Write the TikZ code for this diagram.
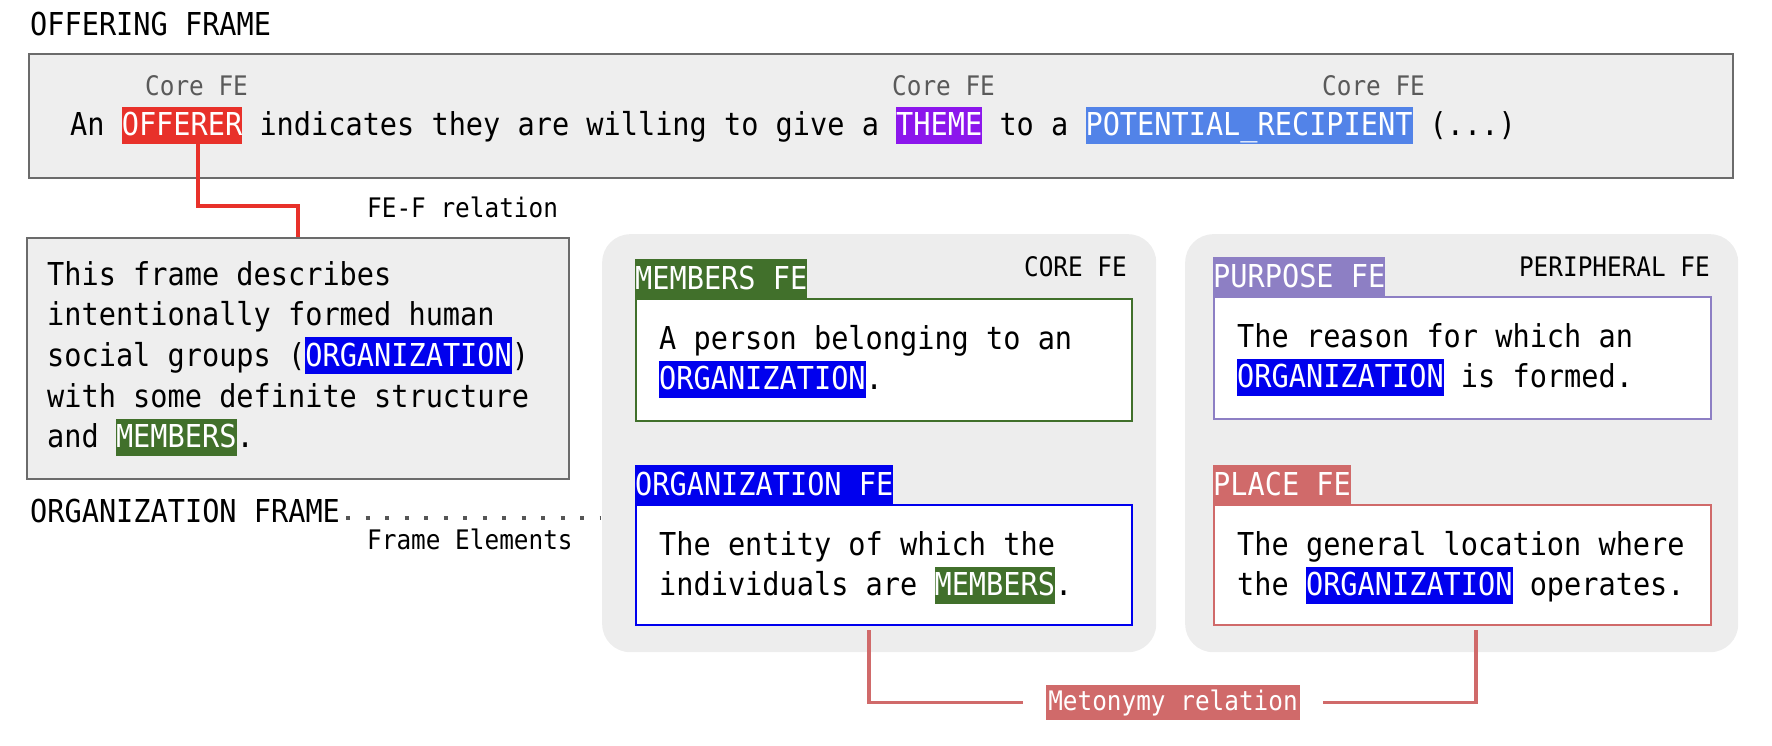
\documentclass[tikz,border=0pt]{standalone}
\usepackage{fontspec}
\setmainfont{DejaVu Sans Mono}[FakeStretch=0.906]
\definecolor{boxgray}{HTML}{EEEEEE}
\definecolor{boxline}{HTML}{6B6B6B}
\definecolor{panelgray}{HTML}{EDEDED}
\definecolor{offred}{HTML}{E8312A}
\definecolor{themepur}{HTML}{8C16EC}
\definecolor{recblue}{HTML}{5283E8}
\definecolor{orgblue}{HTML}{0000EE}
\definecolor{memgreen}{HTML}{41702B}
\definecolor{purlav}{HTML}{8D7FC4}
\definecolor{placered}{HTML}{D06A6A}
\definecolor{coregray}{HTML}{5A5A5A}
\definecolor{dotgray}{HTML}{555555}
\newcommand\fbig{\fontsize{31.55pt}{40.7pt}\selectfont}
\newcommand\fsmall{\fontsize{26.9pt}{32pt}\selectfont}
\newcommand\hl[2]{{\setlength{\fboxsep}{0pt}\colorbox{#1}{\color{white}\rule[-8pt]{0pt}{37pt}#2}}}
\tikzset{
  framebox/.style={draw=boxline, line width=2pt, fill=boxgray, inner sep=0pt, anchor=north west},
  panelbox/.style={fill=panelgray, rounded corners=28pt, inner sep=0pt, anchor=north west},
  febox/.style={fill=white, line width=2pt, inner sep=0pt, anchor=north west, minimum width=#1},
  fetag/.style={anchor=south west, inner sep=0pt, minimum height=39pt, text=white, font=\fbig, text height=23pt, text depth=0pt},
  txt/.style={anchor=base west, inner sep=0pt, font=\fbig},
  smalltxt/.style={anchor=base west, inner sep=0pt, font=\fsmall},
  fefline/.style={draw=offred, line width=4pt},
  metline/.style={draw=placered, line width=3.5pt},
  dotsline/.style={draw=dotgray, line width=4pt, dash pattern=on 4pt off 15.5pt}
}
\begin{document}
\begin{tikzpicture}[x=1pt,y=-1pt]
\useasboundingbox (0,0) rectangle (1772,746);
% panels
\node[panelbox, minimum width=554pt, minimum height=418pt] (midpanel) at (602,234) {};
\node[panelbox, minimum width=553pt, minimum height=418pt] (rightpanel) at (1185,234) {};
% offering frame
\node[txt] (title) at (30,36) {OFFERING FRAME};
\node[framebox, minimum width=1704pt, minimum height=124pt] (topbox) at (28,53) {};
\node[txt] (sent) at (70,136) {An \hl{offred}{OFFERER} indicates they are willing to give a \hl{themepur}{THEME} to a \hl{recblue}{POTENTIAL\_RECIPIENT} (...)};
\node[smalltxt, text=coregray] (core1) at (145,96) {Core FE};
\node[smalltxt, text=coregray] (core2) at (892,96) {Core FE};
\node[smalltxt, text=coregray] (core3) at (1322,96) {Core FE};
% organization frame box
\node[framebox, minimum width=542pt, minimum height=241pt] (lbox) at (26,237) {};
\node[txt] (ltext) at (47,285) {\parbox[t]{515pt}{\raggedright This frame describes\\intentionally formed human\\social groups (\hl{orgblue}{ORGANIZATION})\\with some definite structure\\and \hl{memgreen}{MEMBERS}.}};
\coordinate (offc) at (198,144);
\coordinate (fefbend) at (198,206);
\draw[fefline] (offc) -- (fefbend) -| (lbox.north);
\node[smalltxt] (fef) at (367,218) {FE-F relation};
\node[txt] (orgf) at (30,522) {ORGANIZATION FRAME};
\coordinate (dotend) at (600,518);
\draw[dotsline] ([shift={(6,-4)}]orgf.base east) -- (dotend);
\node[smalltxt] (felem) at (367,549) {Frame Elements};
% core FE panel
\node[smalltxt, anchor=base east] (corefe) at (1127,276) {CORE FE};
\node[febox=496pt, draw=memgreen, minimum height=122pt] (membox) at (635,298) {};
\node[fetag, fill=memgreen] (memtag) at (635,298) {MEMBERS FE};
\node[txt] (memtext) at (659,349) {\parbox[t]{470pt}{\raggedright A person belonging to an\\\hl{orgblue}{ORGANIZATION}.}};
\node[febox=496pt, draw=orgblue, minimum height=120pt] (orgbox) at (635,504) {};
\node[fetag, fill=orgblue] (orgtag) at (635,504) {ORGANIZATION FE};
\node[txt] (orgtext) at (659,555) {\parbox[t]{470pt}{\raggedright The entity of which the\\individuals are \hl{memgreen}{MEMBERS}.}};
% peripheral FE panel
\node[smalltxt, anchor=base east] (perfe) at (1710,276) {PERIPHERAL FE};
\node[febox=497pt, draw=purlav, minimum height=122pt] (purbox) at (1213,296) {};
\node[fetag, fill=purlav] (purtag) at (1213,296) {PURPOSE FE};
\node[txt] (purtext) at (1237,347) {\parbox[t]{470pt}{\raggedright The reason for which an\\\hl{orgblue}{ORGANIZATION} is formed.}};
\node[febox=497pt, draw=placered, minimum height=120pt] (placebox) at (1213,504) {};
\node[fetag, fill=placered] (placetag) at (1213,504) {PLACE FE};
\node[txt] (placetext) at (1237,555) {\parbox[t]{470pt}{\raggedright The general location where\\the \hl{orgblue}{ORGANIZATION} operates.}};
% metonymy
\node[fill=placered, text=white, font=\fsmall, inner xsep=2pt, inner ysep=0pt, minimum height=35pt, text height=20pt, text depth=5pt] (meto) at (1173,702.5) {Metonymy relation};
\draw[metline] ([xshift=-15pt,yshift=-4pt]orgbox.south) |- ([xshift=-23pt]meto.west);
\draw[metline] ([xshift=13.5pt,yshift=-4pt]placebox.south) |- ([xshift=23pt]meto.east);
\end{tikzpicture}
\end{document}
